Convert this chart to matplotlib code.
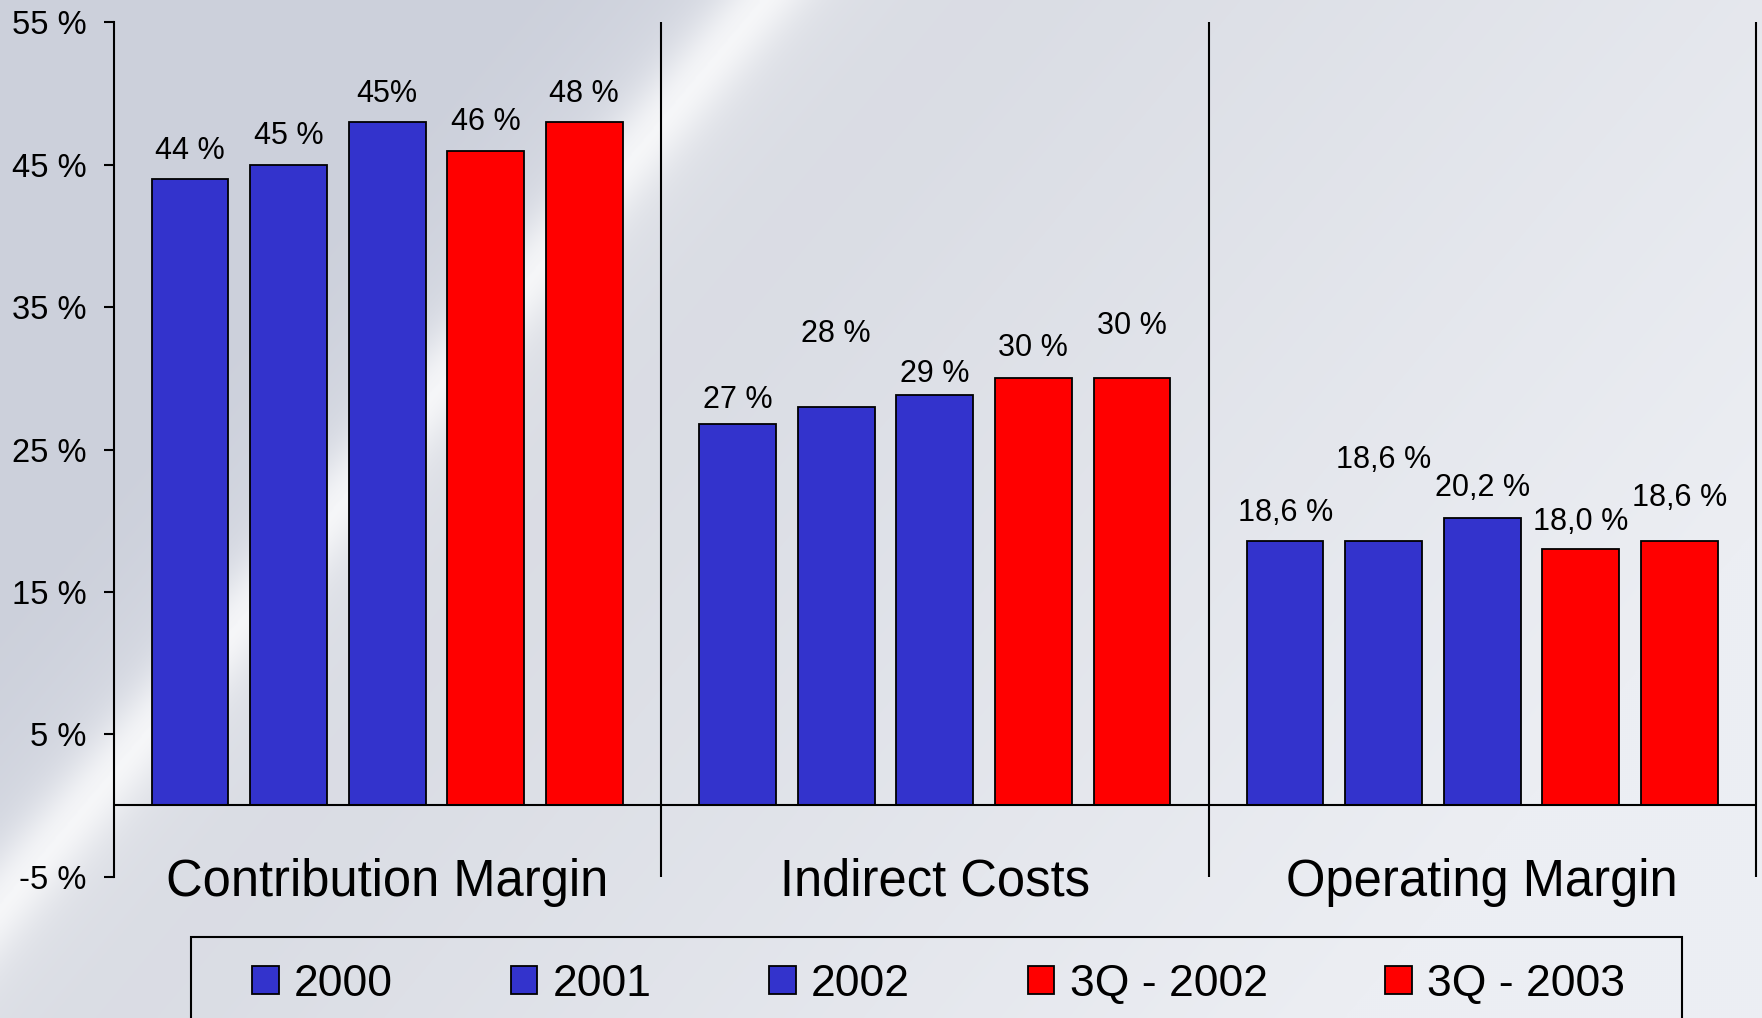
import numpy as np
import matplotlib.pyplot as plt
from matplotlib.patches import Patch, Rectangle

plt.rcParams['font.family'] = ['Liberation Sans', 'DejaVu Sans']

# data
categories = ['Contribution Margin', 'Indirect Costs', 'Operating Margin']
series = ['2000', '2001', '2002', '3Q - 2002', '3Q - 2003']

v2000 = [44.0, 26.8, 18.6]
v2001 = [45.0, 28.0, 18.6]
v2002 = [48.0, 28.8, 20.2]
v3q2002 = [46.0, 30.0, 18.0]
v3q2003 = [48.0, 30.0, 18.6]

lab2000 = ['44 %', '27 %', '18,6 %']
lab2001 = ['45 %', '28 %', '18,6 %']
lab2002 = ['45%', '29 %', '20,2 %']
lab3q2002 = ['46 %', '30 %', '18,0 %']
lab3q2003 = ['48 %', '30 %', '18,6 %']

# how far each value label sits above its bar (in % units)
lift2000 = [2.0, 1.7, 1.95]
lift2001 = [2.05, 5.1, 5.7]
lift2002 = [2.0, 1.5, 2.1]
lift3q2002 = [2.0, 2.1, 1.9]
lift3q2003 = [2.0, 3.7, 3.0]

yticks = [-5, 5, 15, 25, 35, 45, 55]

values = [v2000, v2001, v2002, v3q2002, v3q2003]
labels = [lab2000, lab2001, lab2002, lab3q2002, lab3q2003]
lifts = [lift2000, lift2001, lift2002, lift3q2002, lift3q2003]
colors = ['#3333cc', '#3333cc', '#3333cc', '#ff0000', '#ff0000']

W, H = 1762, 1018
fig = plt.figure(figsize=(W / 100, H / 100), dpi=100)

# background: bluish grey with a soft diagonal light streak
bg = fig.add_axes([0, 0, 1, 1], zorder=-10)
yy, xx = np.mgrid[0:H:2, 0:W:2].astype(float)
nx, ny = 760.0, 640.0
nrm = np.hypot(nx, ny)
d = ((xx - 760) * nx + yy * ny) / nrm
left = np.array([204, 208, 219]) / 255
right0 = np.array([214, 217, 225]) / 255
right1 = np.array([236, 238, 243]) / 255
t = np.clip(d / 1100, 0, 1)[..., None]
img = np.where(d[..., None] < 0, left, right0 * (1 - t) + right1 * t)
glow = 0.58 * np.exp(-(d / 36) ** 2) + 0.2 * np.exp(-(d / 110) ** 2)
img = img + (1 - img) * glow[..., None]
bg.imshow(np.clip(img, 0, 1), extent=[0, 1, 0, 1], aspect='auto',
          interpolation='bilinear')
bg.axis('off')

ax = fig.add_axes([113.5 / W, 0.1389, (1756 - 113.5) / W, 0.839])
ax.patch.set_alpha(0)

x = np.arange(len(categories)) + 0.5
step, width = 0.18, 0.14
for k in range(len(series)):
    pos = x + (k - 2) * step
    ax.bar(pos, values[k], width=width, color=colors[k], edgecolor='black',
           linewidth=1.3, zorder=3, label=series[k])
    for i in range(len(categories)):
        ax.text(pos[i], values[k][i] + lifts[k][i], labels[k][i],
                ha='center', va='center', fontsize=22)

ax.set_xlim(0, 3)
ax.set_ylim(-5, 55)
ax.axhline(0, color='black', lw=1.5, zorder=4)
ax.vlines([1, 2, 3], -5, 55, color='black', lw=1.5, clip_on=False)

for s in ['top', 'right', 'bottom']:
    ax.spines[s].set_visible(False)
ax.spines['left'].set_linewidth(1.5)
ax.set_xticks([])
ax.set_yticks(yticks)
ax.set_yticklabels([f'{v} %' for v in yticks], fontsize=23.5)
ax.tick_params(axis='y', direction='out', length=7.5, width=1.5, pad=12)

for i, c in enumerate(categories):
    ax.text(x[i], -5.4, c, ha='center', va='center', fontsize=36.5)

# legend with a box that runs off the bottom edge
handles = [Patch(facecolor=colors[k], edgecolor='black', linewidth=1.3)
           for k in range(len(series))]
fig.legend(handles, series, ncol=5, loc='center left',
           bbox_to_anchor=(252 / W, 1 - 984 / H), frameon=False,
           fontsize=32, handlelength=0.6, handleheight=0.6,
           handletextpad=0.35, columnspacing=2.64, borderpad=0,
           borderaxespad=0)
fig.add_artist(Rectangle((191 / W, -0.05), (1682 - 191) / W,
                         (H - 937) / H + 0.05, transform=fig.transFigure,
                         fill=False, edgecolor='black', lw=1.5))

fig.savefig('out.png', dpi=100)
